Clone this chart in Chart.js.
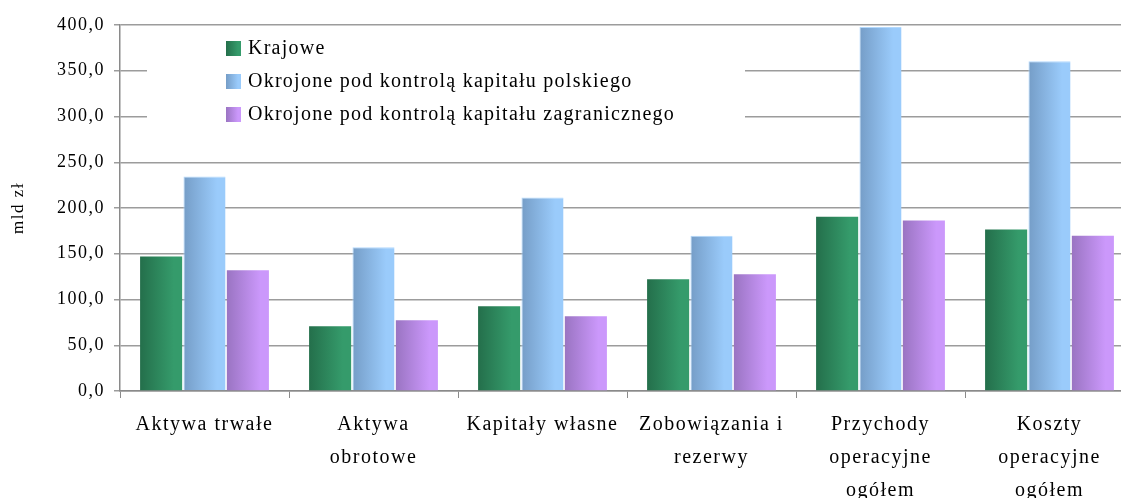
<!DOCTYPE html>
<html>
<head>
<meta charset="utf-8">
<script src="https://cdn.jsdelivr.net/npm/chart.js@4.4.1/dist/chart.umd.min.js"></script>
<style>
    html, body { margin: 0; padding: 0; background: #fff; overflow: hidden; }
    #wrap { position: absolute; left: 0; top: 0; width: 1140px; height: 498px; }
</style>
</head>
<body>
<div id="wrap"><canvas id="chart"></canvas></div>
<script>
// categories (multi-line labels as in the original)
const categories = [
    'Aktywa trwałe',
    ['Aktywa', 'obrotowe'],
    'Kapitały własne',
    ['Zobowiązania i', 'rezerwy'],
    ['Przychody', 'operacyjne', 'ogółem'],
    ['Koszty', 'operacyjne', 'ogółem']
];

const seriesNames = [
    'Krajowe',
    'Okrojone pod kontrolą kapitału polskiego',
    'Okrojone pod kontrolą kapitału zagranicznego'
];

// mld zł
const krajowe = [147.1, 70.8, 92.6, 122.1, 190.4, 176.6];
const polskie = [234.3, 157.0, 211.4, 169.7, 397.8, 360.4];
const zagraniczne = [131.9, 77.4, 81.7, 127.5, 186.4, 169.7];

// dark (left) -> light (right) colours of each series
const seriesColors = [
    ['#246f4b', '#359b6b'],
    ['#759dc7', '#9acbfb'],
    ['#9a74c2', '#cb98fb']
];

const SERIF = '"Liberation Serif", "Times New Roman", serif';

function makeGradient(ctx, x0, x1, cols) {
    const g = ctx.createLinearGradient(x0, 0, x1, 0);
    g.addColorStop(0, cols[0]);
    g.addColorStop(0.8, cols[1]);
    g.addColorStop(1, cols[1]);
    return g;
}

// horizontal gradient on every bar, built from the laid out elements
const barGradients = {
    id: 'barGradients',
    beforeDatasetsDraw(chart) {
        chart.data.datasets.forEach((ds, i) => {
            chart.getDatasetMeta(i).data.forEach(el => {
                const x0 = el.x - el.width / 2;
                el.options.backgroundColor = makeGradient(chart.ctx, x0, x0 + el.width, seriesColors[i]);
            });
        });
    }
};

// legend drawn inside the plot, on a white box
const innerLegend = {
    id: 'innerLegend',
    afterDatasetsDraw(chart) {
        const ctx = chart.ctx;
        ctx.save();
        ctx.fillStyle = '#fff';
        ctx.fillRect(147, 31, 598, 110);
        ctx.font = '20px ' + SERIF;
        ctx.letterSpacing = '1.25px';
        ctx.textBaseline = 'middle';
        seriesNames.forEach((name, i) => {
            const y = 48 + i * 33;
            ctx.fillStyle = makeGradient(ctx, 226, 241, seriesColors[i]);
            ctx.fillRect(226, y - 7, 15, 15);
            ctx.fillStyle = '#000';
            ctx.fillText(name, 248, y + 1);
        });
        ctx.restore();
    }
};

const spacing = {
    id: 'spacing',
    beforeDraw(chart) {
        chart.ctx.letterSpacing = '1.5px';
    }
};

new Chart(document.getElementById('chart'), {
    type: 'bar',
    data: {
        labels: categories,
        datasets: [krajowe, polskie, zagraniczne].map((vals, i) => ({
            label: seriesNames[i],
            data: vals,
            backgroundColor: () => seriesColors[i][1],
            borderWidth: i === 1 ? { top: 1, left: 1, right: 0, bottom: 0 } : 0,
            borderColor: '#b3d9fd',
            categoryPercentage: 0.77,
            barPercentage: 0.97
        }))
    },
    options: {
        responsive: true,
        maintainAspectRatio: false,
        animation: false,
        layout: { padding: { top: 25, right: 6, left: 0, bottom: 0 } },
        plugins: {
            legend: { display: false },
            tooltip: { enabled: false }
        },
        scales: {
            x: {
                afterFit(scale) { scale.height = 107; },
                grid: {
                    offset: true,
                    drawOnChartArea: false,
                    drawTicks: true,
                    tickLength: 7,
                    color: '#8a8a8a'
                },
                border: { color: '#8a8a8a', width: 1.5 },
                ticks: {
                    color: '#000',
                    maxRotation: 0,
                    autoSkip: false,
                    padding: 10,
                    font: { family: SERIF, size: 20, lineHeight: 1.65 }
                }
            },
            y: {
                min: 0,
                max: 400,
                afterFit(scale) { scale.width = 120; },
                grid: {
                    color: '#9c9c9c',
                    lineWidth: 1.5,
                    tickLength: 6
                },
                border: { color: '#8a8a8a', width: 1.5 },
                ticks: {
                    stepSize: 50,
                    color: '#000',
                    padding: 9,
                    font: { family: SERIF, size: 18 },
                    callback: v => v.toFixed(1).replace('.', ',')
                },
                title: {
                    display: true,
                    text: 'mld zł',
                    color: '#000',
                    padding: { top: 8, bottom: 0 },
                    font: { family: SERIF, size: 17 }
                }
            }
        }
    },
    plugins: [spacing, barGradients, innerLegend]
});
</script>
</body>
</html>
